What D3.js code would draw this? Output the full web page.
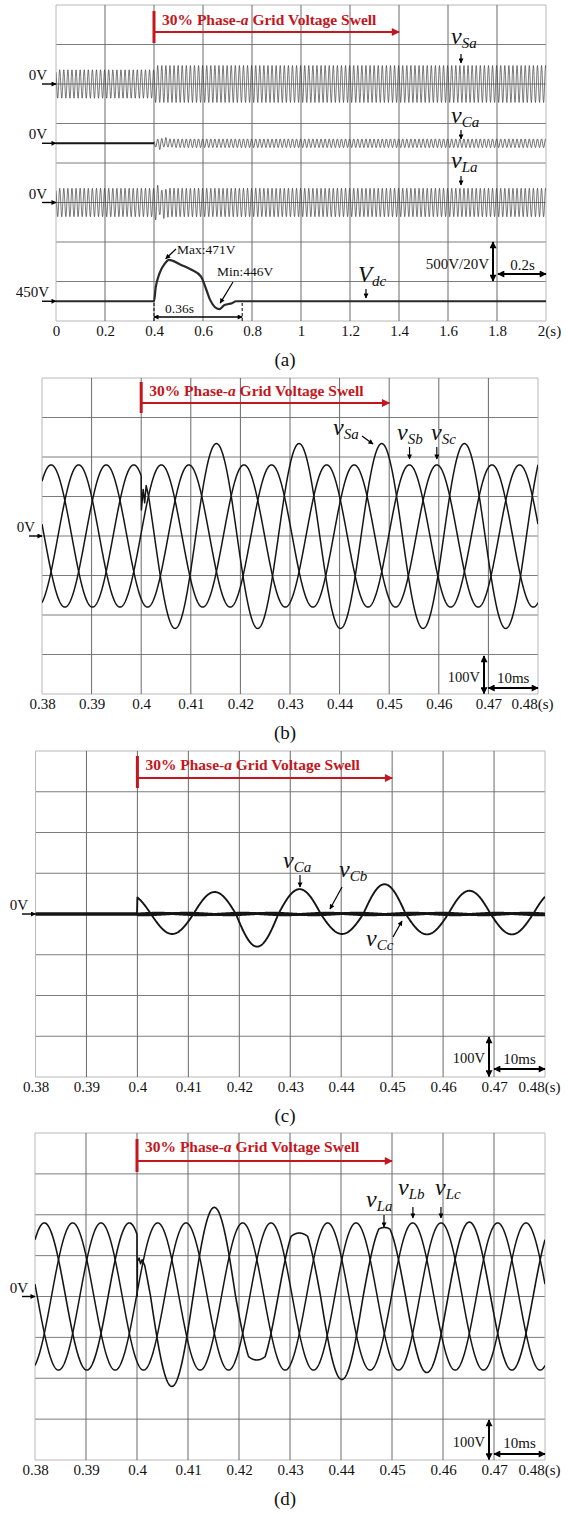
<!DOCTYPE html>
<html><head><meta charset="utf-8">
<script src="https://cdn.jsdelivr.net/npm/d3@7"></script>
<style>
body{margin:0;background:#fff}
svg{display:block}
text{font-family:"Liberation Serif","Times New Roman",serif;fill:#111}
</style></head><body>
<svg id="fig" width="568" height="1515"></svg>
<script>
// ---------------- data ----------------
const FREQ = 60;            // grid frequency (Hz)
const PEAK_A = 0.3985;      // time of a positive peak of phase a (s)
const ONSET = 0.4;          // start of the phase-a swell (s)
const SWELL_END = 1.4;      // end of the marked swell interval in (a) (s)

// (a) overview, 0–2 s
const aTicks = [0, 0.2, 0.4, 0.6, 0.8, 1, 1.2, 1.4, 1.6, 1.8, 2];
const aTickLabels = ["0", "0.2", "0.4", "0.6", "0.8", "1", "1.2", "1.4", "1.6", "1.8", "2(s)"];
const vdcTime = [0, 0.4, 0.407, 0.422, 0.444, 0.46, 0.511, 0.555, 0.592, 0.614, 0.629, 0.666, 0.688, 0.718, 0.735, 2];
const vdcVolt = [450, 450, 457, 464, 469, 471, 468.4, 465.8, 462.5, 455.7, 450.7, 446, 448.1, 449, 450, 450];
const vdcMax = 471, vdcMin = 446, vdcSettle = 0.36;

// (b)–(d) zoom, 0.38–0.48 s
const zTicks = [0.38, 0.39, 0.4, 0.41, 0.42, 0.43, 0.44, 0.45, 0.46, 0.47, 0.48];
const zTickLabels = ["0.38", "0.39", "0.4", "0.41", "0.42", "0.43", "0.44", "0.45", "0.46", "0.47", "0.48(s)"];

// half-cycle extremes (V) after the onset, one per half-cycle of phase a,
// starting with the half-cycle that contains the onset
const vSaPeaks = [234, 234, 234, 234, 234, 234, 234, 234, 234, 234, 234];
const vCaPeaks = [48, 49, 54, 80, 61, 49, 73, 50, 57, 50, 55];
const vLaPeaks = [180, 220, 218, 180, 180, 203, 180, 186, 182, 180, 180];
const vLaClip  = [null, null, null, 147, 147, null, 165, null, null, null, null];
// switching transients right at the onset: [time (s), voltage (V)]
const vSaGlitch = [[0.4, 152], [0.40004, 66], [0.4004, 118], [0.4007, 84], [0.401, 128], [0.4015, 100]];
const vLaGlitch = [[0.4, 152], [0.40003, 0], [0.40008, 86], [0.4004, 94], [0.4007, 80], [0.401, 90], [0.4015, 76]];

const vSa = {pre: 180, post: 234, peaks: vSaPeaks};
const vSb = {pre: 180, post: 180};
const vSc = {pre: 180, post: 180};
const vCa = {pre: 0, post: 55, peaks: vCaPeaks};
const vCb = {pre: 0, post: 2};
const vCc = {pre: 0, post: 2};
const vLa = {pre: 180, post: 180, peaks: vLaPeaks, clips: vLaClip};
const vLb = {pre: 180, post: 180};
const vLc = {pre: 180, post: 180};

// ---------------- layout ----------------
const layout = {
  a: {x0: 56, x1: 546, y0: 5, y1: 321},
  b: {x0: 42, x1: 538, y0: 378, y1: 694},
  c: {x0: 35.5, x1: 545, y0: 751, y1: 1077},
  d: {x0: 35, x1: 545, y0: 1133, y1: 1460}
};
const RED = "#c4161c";
const INK = "#151515";

const svg = d3.select("#fig");
const defs = svg.append("defs");

function addMarker(id, color, w, h) {
  defs.append("marker").attr("id", id)
    .attr("viewBox", "0 0 10 10").attr("refX", 9).attr("refY", 5)
    .attr("markerWidth", w).attr("markerHeight", h)
    .attr("markerUnits", "userSpaceOnUse")
    .attr("orient", "auto-start-reverse")
    .append("path").attr("d", "M0,0 L10,5 L0,10 z").attr("fill", color);
}
addMarker("ah", "#000", 8, 7);
addMarker("ahS", "#000", 6, 5);
addMarker("ahR", RED, 11, 8);

function arrow(x1, y1, x2, y2, o = {}) {
  const l = svg.append("line").attr("x1", x1).attr("y1", y1).attr("x2", x2).attr("y2", y2)
    .attr("stroke", o.color || "#000").attr("stroke-width", o.w || 1.6)
    .attr("marker-end", `url(#${o.m || "ah"})`);
  if (o.both) l.attr("marker-start", `url(#${o.m || "ah"})`);
  return l;
}

function label(x, y, txt, o = {}) {
  return svg.append("text").attr("x", x).attr("y", y)
    .attr("font-size", o.size || 15)
    .attr("text-anchor", o.anchor || "start")
    .attr("font-weight", o.weight || null)
    .style("fill", o.color || null)
    .text(txt);
}

function sigLabel(x, y, main, sub, big = 24, small = 15) {
  const t = svg.append("text").attr("x", x).attr("y", y).attr("font-style", "italic");
  t.append("tspan").attr("font-size", big).text(main);
  t.append("tspan").attr("font-size", small).attr("dy", 4).text(sub);
}

// value of one phase at time t: sinusoid whose extreme changes half-cycle by half-cycle;
// a clip level flattens the crest softly
function phaseValue(t, lag, spec) {
  const T = 1 / FREQ, h = T / 2;
  const tp = PEAK_A + lag * T;
  const k = Math.round((t - tp) / h);
  const c = Math.cos(2 * Math.PI * (t - tp - k * h) / T);
  const sign = (k % 2 === 0) ? 1 : -1;
  let mag = spec.pre, clip = null;
  if (t >= ONSET) {
    const i = k - Math.round((ONSET - tp) / h);
    mag = (spec.peaks && i >= 0 && i < spec.peaks.length) ? spec.peaks[i] : spec.post;
    if (spec.clips && i >= 0 && i < spec.clips.length) clip = spec.clips[i];
  }
  let v = mag * c;
  if (clip != null && v > clip) v = clip + (v - clip) * 0.25;
  return sign * v;
}

function sampleWave(t0, t1, step, lag, spec, glitch) {
  let pts = [];
  for (let t = t0; t <= t1 + 1e-9; t += step) pts.push([t, phaseValue(t, lag, spec)]);
  if (glitch) {
    const g0 = glitch[0][0], g1 = glitch[glitch.length - 1][0];
    pts = pts.filter(p => p[0] < g0 || p[0] > g1).concat(glitch.map(g => [g[0], g[1]]));
    // left limit just before the onset keeps the jump vertical
    pts.push([g0 - 1e-6, phaseValue(g0 - 1e-6, lag, spec)]);
    pts.sort((a, b) => a[0] - b[0]);
  }
  return pts;
}

function frame(key, ticks, tickLabels, lastShift) {
  const L = layout[key];
  const x = d3.scaleLinear().domain([ticks[0], ticks[ticks.length - 1]]).range([L.x0, L.x1]);
  const g = svg.append("g");
  const rows = d3.range(9).map(i => L.y0 + (L.y1 - L.y0) * i / 8);
  g.selectAll(".h").data(rows).join("line")
    .attr("x1", L.x0).attr("x2", L.x1).attr("y1", d => d).attr("y2", d => d)
    .attr("stroke", (d, i) => (i === 0 || i === 8) ? "#b8b8b8" : "#7c7c7c").attr("stroke-width", 1);
  g.selectAll(".v").data(ticks).join("line")
    .attr("x1", d => x(d)).attr("x2", d => x(d)).attr("y1", L.y0).attr("y2", L.y1)
    .attr("stroke", (d, i) => (i === 0 || i === ticks.length - 1) ? "#b8b8b8" : "#6a6a6a").attr("stroke-width", 1);
  // time axis labels
  const axis = d3.axisBottom(x).tickValues(ticks).tickSize(0).tickPadding(0)
    .tickFormat((d, i) => tickLabels[i]);
  const ag = svg.append("g").attr("transform", `translate(0,${L.y1 + 4})`).call(axis);
  ag.select(".domain").remove();
  ag.selectAll("text").attr("font-size", 15).attr("dy", "0.71em")
    .style("font-family", '"Liberation Serif","Times New Roman",serif').style("fill", "#111")
    .attr("dx", (d, i) => i === ticks.length - 1 ? lastShift : 0);
  const clipId = "clip-" + key;
  defs.append("clipPath").attr("id", clipId).append("rect")
    .attr("x", L.x0).attr("y", L.y0 - 20).attr("width", L.x1 - L.x0).attr("height", L.y1 - L.y0 + 40);
  return {x, L, clip: `url(#${clipId})`};
}

function swellBanner(x, L, tEnd, barTop, barBot, arrowY, textY) {
  svg.append("rect").attr("x", x(ONSET) - 1.5).attr("y", barTop).attr("width", 3).attr("height", barBot - barTop).attr("fill", RED);
  arrow(x(ONSET), arrowY, x(tEnd), arrowY, {color: RED, w: 2, m: "ahR"});
  const t = svg.append("text").attr("x", x(ONSET) + 8).attr("y", textY)
    .attr("font-size", 15.5).attr("font-weight", "bold").style("fill", RED);
  t.append("tspan").text("30% Phase-");
  t.append("tspan").attr("font-style", "italic").text("a");
  t.append("tspan").text(" Grid Voltage Swell");
}

function zeroMark(xText, yLine, xa0, xa1, txt = "0V") {
  label(xText, yLine - 4, txt, {size: 15, anchor: "end"});
  arrow(xa0, yLine, xa1, yLine, {w: 1.4, m: "ahS"});
}

function panelCaption(L, txt) {
  label(285, L.y1 + 45, txt, {size: 19, anchor: "middle"});
}

// ================= (a) =================
{
  const {x, L, clip} = frame("a", aTicks, aTickLabels, 3);
  const y = d3.scaleLinear().domain([0, 8]).range([L.y1, L.y0]);
  const T = 1 / FREQ;
  const acLine = (base) => d3.line().x(d => x(d[0])).y(d => y(base + d[1] / 500));
  const g = svg.append("g").attr("clip-path", clip);
  const traces = [[vSa, 6], [vLa, 3]];
  traces.forEach(([spec, base]) => {
    g.append("path").attr("d", acLine(base)(sampleWave(0, 2, T / 12, 0, spec)))
      .attr("fill", "none").attr("stroke", "#333").attr("stroke-width", 0.65);
  });
  const ca = sampleWave(0, 2, T / 12, 0, vCa);
  g.append("path").attr("d", acLine(4.5)(ca.filter(p => p[0] <= ONSET)))
    .attr("fill", "none").attr("stroke", INK).attr("stroke-width", 2);
  g.append("path").attr("d", acLine(4.5)(ca.filter(p => p[0] >= ONSET)))
    .attr("fill", "none").attr("stroke", "#333").attr("stroke-width", 0.7);
  // dc-link voltage, 20 V per division around 450 V
  const yDc = v => y(0.5 + (v - 450) / 20);
  g.append("path").attr("d", d3.line().curve(d3.curveMonotoneX).x((d, i) => x(vdcTime[i])).y(d => yDc(d))(vdcVolt))
    .attr("fill", "none").attr("stroke", "#2a2a2a").attr("stroke-width", 2.2);

  swellBanner(x, L, SWELL_END, 11, 43, 32, 25);
  zeroMark(47, y(6), 42, L.x0);
  zeroMark(47, y(4.5), 42, L.x0);
  zeroMark(47, y(3), 42, L.x0);
  zeroMark(49, yDc(450), 42, L.x0, "450V");

  sigLabel(451, 44, "v", "Sa");
  arrow(461, 54, 461, 63, {w: 1.2, m: "ahS"});
  sigLabel(451, 123, "v", "Ca");
  arrow(461, 130, 461, 139, {w: 1.2, m: "ahS"});
  sigLabel(451, 168, "v", "La");
  arrow(461, 176, 461, 185, {w: 1.2, m: "ahS"});
  sigLabel(358, 282, "V", "dc", 23, 15);
  arrow(366, 289, 366, 298, {w: 1.2, m: "ahS"});

  // peak / dip annotations
  const tMax = vdcTime[vdcVolt.indexOf(vdcMax)], tMin = vdcTime[vdcVolt.indexOf(vdcMin)];
  label(177, 254, `Max:${vdcMax}V`, {size: 13.5});
  arrow(176, 249, x(tMax) - 3, yDc(vdcMax) - 1, {w: 1.2, m: "ahS"});
  label(217, 276, `Min:${vdcMin}V`, {size: 13.5});
  arrow(233, 282, x(tMin) + 1, yDc(vdcMin) - 6, {w: 1.2, m: "ahS"});
  // settling interval
  [ONSET, ONSET + vdcSettle].forEach(t => svg.append("line").attr("x1", x(t)).attr("x2", x(t))
    .attr("y1", 303).attr("y2", L.y1).attr("stroke", "#000").attr("stroke-width", 1).attr("stroke-dasharray", "3,2"));
  arrow(x(ONSET), 317, x(ONSET + vdcSettle), 317, {w: 1.3, m: "ahS", both: true});
  label(165, 313, `${vdcSettle}s`, {size: 13.5});

  // scale markers
  arrow(493, 242, 493, 281, {w: 2, m: "ah", both: true});
  label(489, 269, "500V/20V", {size: 15, anchor: "end"});
  arrow(x(1.8) + 1, 274, L.x1, 274, {w: 2, m: "ah", both: true});
  label((x(1.8) + L.x1) / 2 + 1, 270, "0.2s", {size: 15, anchor: "middle"});
  panelCaption(L, "(a)");
}

// shared drawing for the zoomed three-phase panels
function zoomPanel(key, specs, glitchA, widths) {
  const {x, L, clip} = frame(key, zTicks, zTickLabels, -6);
  const y = d3.scaleLinear().domain([-400, 400]).range([L.y1, L.y0]);
  const T = 1 / FREQ;
  const line = d3.line().x(d => x(d[0])).y(d => y(d[1]));
  const g = svg.append("g").attr("clip-path", clip);
  specs.forEach((spec, i) => {
    const pts = sampleWave(0.38, 0.48, T / 240, i / 3, spec, i === 0 ? glitchA : null);
    g.append("path").attr("d", line(pts)).attr("fill", "none")
      .attr("stroke", INK).attr("stroke-width", widths[i]).attr("stroke-linejoin", "round");
  });
  return {x, y, L};
}

function scaleMarks(L, xv, yTop, xh0, yArrow, txtY) {
  arrow(xv, yTop, xv, L.y1 - 0.5, {w: 2, m: "ah", both: true});
  label(xv - 4, txtY, "100V", {size: 14.5, anchor: "end"});
  arrow(xh0, yArrow, L.x1, yArrow, {w: 2, m: "ah", both: true});
  label((xh0 + L.x1) / 2, txtY + 1, "10ms", {size: 15, anchor: "middle"});
}

// ================= (b) =================
{
  const {x, y, L} = zoomPanel("b", [vSa, vSb, vSc], vSaGlitch, [1.5, 1.5, 1.5]);
  swellBanner(x, L, 0.45, 382, 413, 403, 396);
  zeroMark(35, y(0), 29, L.x0);
  sigLabel(333, 435, "v", "Sa");
  arrow(362, 436, 373, 444, {w: 1.2, m: "ahS"});
  sigLabel(397, 440, "v", "Sb");
  arrow(x(0.4541), 447, x(0.4541), 459, {w: 1.2, m: "ahS"});
  sigLabel(431, 440, "v", "Sc");
  arrow(x(0.4596), 447, x(0.4596), 459, {w: 1.2, m: "ahS"});
  scaleMarks(L, 484, 656, x(0.47), 688, 682);
  panelCaption(L, "(b)");
}

// ================= (c) =================
{
  const {x, y, L} = zoomPanel("c", [vCa, vCb, vCc], null, [1.9, 2.8, 2.8]);
  swellBanner(x, L, 0.45, 756, 788, 778, 770);
  zeroMark(28, y(0), 22, L.x0);
  sigLabel(283, 868, "v", "Ca");
  arrow(300, 875, 300, 887, {w: 1.2, m: "ahS"});
  sigLabel(339, 877, "v", "Cb");
  arrow(342, 887, 330, 909, {w: 1.2, m: "ahS"});
  sigLabel(366, 946, "v", "Cc");
  arrow(393, 937, 402, 921, {w: 1.2, m: "ahS"});
  scaleMarks(L, 489, 1037, x(0.47), 1069, 1063);
  panelCaption(L, "(c)");
}

// ================= (d) =================
{
  const {x, y, L} = zoomPanel("d", [vLa, vLb, vLc], vLaGlitch, [1.6, 1.5, 1.5]);
  swellBanner(x, L, 0.45, 1139, 1172, 1161, 1152);
  zeroMark(28, y(0), 22, L.x0);
  sigLabel(366, 1207, "v", "La");
  arrow(384, 1215, 384, 1227, {w: 1.2, m: "ahS"});
  sigLabel(398, 1195, "v", "Lb");
  arrow(x(0.4541), 1207, x(0.4541), 1218, {w: 1.2, m: "ahS"});
  sigLabel(435, 1195, "v", "Lc");
  arrow(x(0.4596), 1207, x(0.4596), 1218, {w: 1.2, m: "ahS"});
  scaleMarks(L, 489, 1420, x(0.47), 1454, 1447);
  panelCaption(L, "(d)");
}
</script>
</body></html>
